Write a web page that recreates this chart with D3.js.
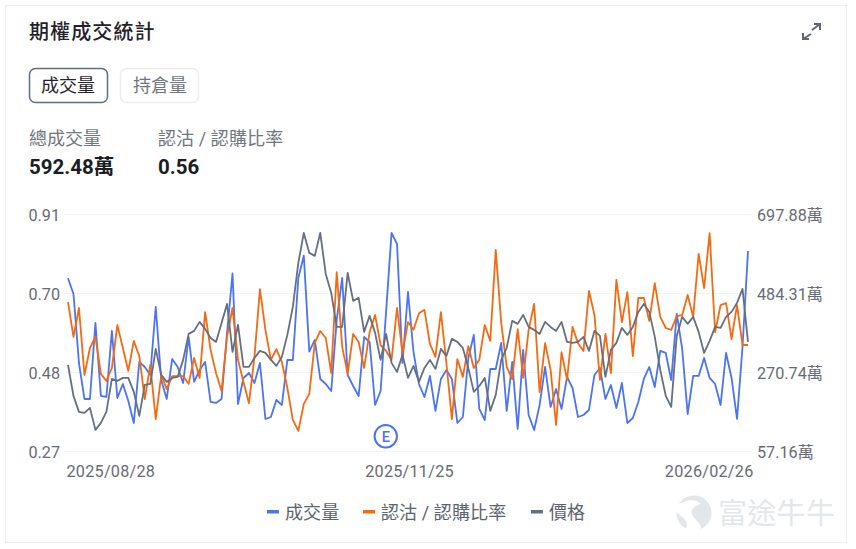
<!DOCTYPE html>
<html lang="zh-Hant">
<head>
<meta charset="utf-8">
<title>期權成交統計</title>
<script src="https://cdn.jsdelivr.net/npm/d3@7/dist/d3.min.js"></script>
<style>
html,body{margin:0;padding:0;background:#fff;}
svg{display:block;}
text{font-family:Roboto,"Noto Sans CJK TC",sans-serif;}
.axis path,.axis line{display:none;}
</style>
</head>
<body>
<svg id="chart" width="856" height="549"></svg>
<script>
// Daily option volume in units of 萬 contracts
const volume = [524.9,482.4,295.9,198.6,198.6,404.0,206.7,204.0,382.4,201.3,239.1,193.2,133.7,298.6,285.1,263.5,447.3,250.0,198.6,306.7,285.1,241.8,366.2,244.6,277.0,298.6,190.5,187.8,198.6,377.0,537.9,185.1,255.4,268.9,241.8,295.9,144.5,149.9,195.9,182.4,304.0,304.0,525.7,586.0,326.5,358.1,252.7,239.1,220.2,412.2,525.7,263.5,233.7,206.7,366.2,352.7,182.4,220.2,433.8,647.4,617.6,295.9,487.9,325.7,239.1,204.0,260.8,166.2,252.7,277.0,252.7,133.7,149.9,309.4,371.6,171.6,141.8,279.7,279.7,350.0,166.2,298.6,117.5,331.1,155.3,114.8,182.4,285.1,177.0,225.6,171.6,258.1,228.3,149.9,155.3,168.9,263.5,282.4,198.6,236.4,174.3,241.8,133.7,147.2,190.5,252.7,285.1,231.0,328.4,323.0,250.0,428.4,333.8,158.0,260.8,260.8,309.4,255.4,239.1,182.4,323.0,255.4,144.5,339.2,598.7];
// Put / call ratio per day
const putCallRatio = [0.673,0.579,0.657,0.476,0.549,0.579,0.479,0.460,0.495,0.611,0.549,0.487,0.568,0.527,0.411,0.503,0.357,0.476,0.438,0.473,0.473,0.473,0.452,0.522,0.468,0.646,0.544,0.481,0.433,0.579,0.657,0.517,0.457,0.400,0.525,0.708,0.598,0.517,0.546,0.511,0.441,0.355,0.325,0.398,0.425,0.562,0.595,0.576,0.481,0.754,0.552,0.479,0.587,0.565,0.495,0.592,0.638,0.557,0.541,0.517,0.657,0.535,0.619,0.598,0.643,0.652,0.560,0.525,0.646,0.508,0.357,0.519,0.471,0.554,0.495,0.517,0.611,0.568,0.814,0.616,0.498,0.465,0.600,0.468,0.598,0.668,0.430,0.562,0.490,0.341,0.538,0.463,0.606,0.562,0.541,0.703,0.638,0.463,0.587,0.481,0.733,0.619,0.700,0.527,0.684,0.684,0.622,0.724,0.633,0.603,0.598,0.635,0.638,0.692,0.633,0.803,0.711,0.859,0.592,0.665,0.670,0.573,0.665,0.557,0.557];
// Closing price of the underlying (no axis shown for it)
const price = [243.2,227.7,219.7,219.2,221.7,210.7,214.2,219.7,236.2,235.2,236.7,236.7,229.7,217.7,233.2,233.7,251.2,238.2,234.7,236.7,237.2,245.7,258.7,260.2,264.7,261.2,256.7,254.7,264.2,273.7,249.7,263.2,242.2,242.2,246.7,250.2,249.2,245.7,242.7,247.2,258.2,272.2,294.2,309.2,299.2,297.7,309.2,288.7,279.2,262.2,262.2,289.2,275.2,276.7,259.7,267.7,259.2,245.7,258.7,244.2,239.7,248.2,236.7,242.7,234.7,241.7,245.7,241.2,251.2,247.7,256.2,254.7,251.7,241.7,229.7,232.7,236.7,220.2,228.2,245.7,251.7,265.2,263.7,268.2,262.2,260.7,258.7,264.7,262.2,260.2,264.7,254.7,254.2,254.7,257.2,250.2,260.2,257.7,237.2,250.7,254.2,261.7,258.2,262.2,269.7,273.7,269.7,257.2,240.7,227.7,222.2,257.7,267.2,263.7,267.2,259.7,249.2,255.2,262.2,261.7,267.2,269.7,274.2,281.2,254.7];

const ratioTicks = [0.27,0.4833,0.6967,0.91];
const volumeTicks = [57.16,270.74,484.31,697.88];
const priceDomain = [200,318.5];
const dateTicks = [[0,"2025/08/28"],[62,"2025/11/25"],[124,"2026/02/26"]];
const earningsIndex = 58;
const legendItems = ["成交量","認沽 / 認購比率","價格"];

const COLORS = {volume:"#4a73f5", ratio:"#f56a10", price:"#666f7f"};
const svg = d3.select("#chart");

svg.append("rect").attr("x",5.5).attr("y",5.5).attr("width",841).attr("height",537)
  .attr("fill","#fff").attr("stroke","#eeeeee");

// Header block
svg.append("text").attr("x",29).attr("y",39).attr("font-size",20).attr("letter-spacing",1.1)
  .attr("font-weight",500).attr("fill","#1f2329").text("期權成交統計");

// Expand icon
const icon = svg.append("g").attr("fill","none").attr("stroke","#5f6670").attr("stroke-width",2);
icon.append("path").attr("d","M812 30L820 24M814 24H820V30");
icon.append("path").attr("d","M811 34L803 39M803 33V39H809");

// Tabs
svg.append("rect").attr("x",29.5).attr("y",68.5).attr("width",78).attr("height",34).attr("rx",6)
  .attr("fill","#fff").attr("stroke","#5e6c87").attr("stroke-width",1.5);
svg.append("text").attr("x",41).attr("y",92).attr("font-size",18).attr("fill","#1f2329").text("成交量");
svg.append("rect").attr("x",120.5).attr("y",68.5).attr("width",78).attr("height",34).attr("rx",6)
  .attr("fill","#fff").attr("stroke","#ececec").attr("stroke-width",1.5);
svg.append("text").attr("x",133).attr("y",92).attr("font-size",18).attr("fill","#6f7680").text("持倉量");

// Summary figures
svg.append("text").attr("x",29).attr("y",145).attr("font-size",18).attr("fill","#6f7680").text("總成交量");
svg.append("text").attr("x",158).attr("y",145).attr("font-size",18).attr("letter-spacing",0.1).attr("fill","#6f7680").text("認沽 / 認購比率");
svg.append("text").attr("x",29).attr("y",174).attr("font-size",20.5).attr("font-weight",700).attr("fill","#1a1d22").text("592.48萬");
svg.append("text").attr("x",158).attr("y",174).attr("font-size",20.5).attr("font-weight",700).attr("fill","#1a1d22").text("0.56");

// Scales
const yRange = [451.3,214.3];
const x = d3.scaleLinear().domain([0,volume.length-1]).range([68,748]);
const yRatio = d3.scaleLinear().domain([0.27,0.91]).range(yRange);
const yVolume = d3.scaleLinear().domain([57.16,697.88]).range(yRange);
const yPrice = d3.scaleLinear().domain(priceDomain).range(yRange);

// Horizontal grid
svg.append("g").selectAll("line").data(ratioTicks).join("line")
  .attr("x1",65).attr("x2",752)
  .attr("y1",d=>Math.round(yRatio(d))+0.5).attr("y2",d=>Math.round(yRatio(d))+0.5)
  .attr("stroke","#f2f3f4");

// Axes
const styleAxis = g => {
  g.attr("class","axis");
  g.selectAll("text").attr("font-size",16.2).attr("fill","#666c75")
    .style("font-family",'Roboto,"Noto Sans CJK TC",sans-serif');
};
svg.append("g").attr("transform","translate(60,1)")
  .call(d3.axisLeft(yRatio).tickValues(ratioTicks).tickSize(0).tickPadding(0).tickFormat(d3.format(".2f")))
  .call(styleAxis);
svg.append("g").attr("transform","translate(757,1)")
  .call(d3.axisRight(yVolume).tickValues(volumeTicks).tickSize(0).tickPadding(0).tickFormat(d=>d3.format(".2f")(d)+"萬"))
  .call(styleAxis);

// Date labels: the outer two hug the plot edges, the middle one is centred
const dateAnchors = ["start","middle","end"];
const dateOffsets = [-2,1,5];
svg.append("g").attr("transform","translate(0,465)")
  .call(d3.axisBottom(x).tickValues(dateTicks.map(d=>d[0])).tickSize(0).tickPadding(0)
    .tickFormat(i=>dateTicks.find(d=>d[0]===i)[1]))
  .call(styleAxis)
  .selectAll("text")
  .attr("text-anchor",(d,i)=>dateAnchors[i])
  .attr("dx",(d,i)=>dateOffsets[i])
  .attr("letter-spacing",0.25);

// Series lines
const drawLine = (values,scale,color) => svg.append("path")
  .datum(values).attr("fill","none").attr("stroke",color).attr("stroke-width",1.8)
  .attr("stroke-linejoin","round")
  .attr("d",d3.line().x((d,i)=>x(i)).y(d=>scale(d)));
drawLine(volume,yVolume,COLORS.volume);
drawLine(putCallRatio,yRatio,COLORS.ratio);
drawLine(price,yPrice,COLORS.price);

// Earnings marker
const marker = svg.append("g").attr("transform",`translate(${x(earningsIndex)-0.3},436.3)`);
marker.append("circle").attr("r",11.2).attr("fill","#fff").attr("stroke",COLORS.volume).attr("stroke-width",2);
marker.append("text").attr("text-anchor","middle").attr("y",5.2).attr("font-size",14.5).attr("font-weight",500)
  .attr("fill",COLORS.volume).text("E");

// Legend
const legendColors = [COLORS.volume,COLORS.ratio,COLORS.price];
const legendX = [267,363,531];
const legend = svg.append("g").selectAll("g").data(legendItems).join("g")
  .attr("transform",(d,i)=>`translate(${legendX[i]},0)`);
legend.append("rect").attr("y",510).attr("width",12).attr("height",3.5).attr("fill",(d,i)=>legendColors[i]);
legend.append("text").attr("x",18).attr("y",519).attr("font-size",18).attr("letter-spacing",0.1).attr("fill","#5c636d").text(d=>d);

// Brand mark
const brand = svg.append("g");
brand.append("circle").attr("cx",694).attr("cy",513).attr("r",17.5).attr("fill","#e4e7ea");
brand.append("path").attr("fill","#fff")
  .attr("d","M676 507C684 499 696 498 701 504C696 505 690 509 692 514C694 520 701 522 701 529C696 533 689 532 685 530C689 525 686 519 681 516C678 514 675 511 676 507Z");
brand.append("text").attr("x",718).attr("y",523.5).attr("font-size",29).attr("letter-spacing",0.3).attr("fill","#e4e7ea").text("富途牛牛");
</script>
</body>
</html>
